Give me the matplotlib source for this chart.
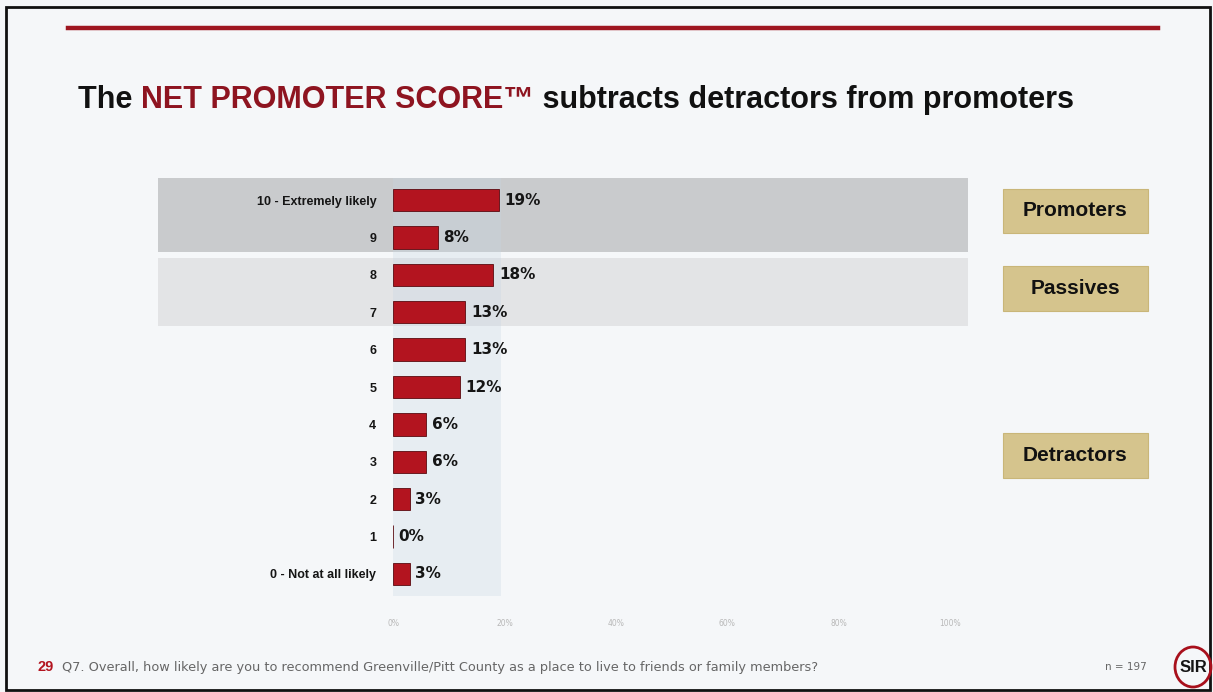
import matplotlib.pyplot as plt
from matplotlib.patches import Rectangle, Ellipse
from matplotlib.ticker import MultipleLocator, FuncFormatter

categories = ["0 - Not at all likely", "1", "2", "3", "4", "5", "6", "7", "8", "9",
              "10 - Extremely likely"]
values = [3, 0, 3, 6, 6, 12, 13, 13, 18, 8, 19]
groups = ["Promoters", "Passives", "Detractors"]

W, H = 1213, 692
fig = plt.figure(figsize=(W / 100, H / 100), dpi=100)
fig.patch.set_facecolor("#f5f7f9")
SANS = ["Liberation Sans", "DejaVu Sans"]

def px(x0, y0, x1, y1):
    # pixel box -> figure fraction rect
    return [x0 / W, 1 - y1 / H, (x1 - x0) / W, (y1 - y0) / H]

# slide frame and top rule
fig.add_artist(Rectangle((6 / W, 1 - 690 / H), 1204 / W, 683 / H, transform=fig.transFigure,
                         fill=False, ec="#111111", lw=2))
fig.add_artist(plt.Line2D([68 / W, 1158 / W], [1 - 28 / H] * 2, transform=fig.transFigure,
                          color="#9e1620", lw=3.2))

# title, mixed colours
ty = 1 - 100 / H
t1 = fig.text(78 / W, ty, "The ", fontsize=22, fontweight="bold", color="#111111",
              va="center", family=SANS)
fig.canvas.draw()
r = fig.canvas.get_renderer()
bb = t1.get_window_extent(r)
t2 = fig.text(bb.x1 / W, ty, "NET PROMOTER SCORE\u2122", fontsize=22, fontweight="bold",
              color="#8e1420", va="center", family=SANS)
bb = t2.get_window_extent(r)
fig.text(bb.x1 / W, ty, " subtracts detractors from promoters", fontsize=22,
         fontweight="bold", color="#111111", va="center", family=SANS)

ax = fig.add_axes(px(393, 177.6, 950, 596.4))
ax.set_facecolor("none")
ax.set_xlim(0, 100)
ax.set_ylim(-0.6, 10.6)
ypos = list(range(len(categories)))

# group bands behind the bars
x_left, x_right = (158 - 393) / 5.57, (968 - 393) / 5.57
ax.add_patch(Rectangle((x_left, 8.6), x_right - x_left, 2.0, fc="#c9cbcd", ec="none",
                       clip_on=False, zorder=0))
ax.add_patch(Rectangle((x_left, 6.63), x_right - x_left, 1.82, fc="#e3e4e6", ec="none",
                       clip_on=False, zorder=0))
ax.add_patch(Rectangle((0, -0.6), 19.3, 11.2, fc="#c7d6e4", alpha=0.3, ec="none", zorder=0.5))

ax.barh(ypos, values, height=0.6, color="#b3141f", edgecolor="#5a0a10", lw=0.6, zorder=2)
for y, v in zip(ypos, values):
    ax.text(v + 1.0, y, f"{v}%", va="center", ha="left", fontsize=11, fontweight="bold",
            color="#151515")

ax.set_yticks(ypos)
ax.set_yticklabels(categories, fontsize=9, fontweight="bold", color="#151515", family=SANS)
ax.tick_params(axis="y", length=0, pad=12)
ax.xaxis.set_major_locator(MultipleLocator(20))
ax.xaxis.set_major_formatter(FuncFormatter(lambda v, p: f"{v:.0f}%"))
ax.tick_params(axis="x", length=0, labelsize=5.5, labelcolor="#b8b8b8", pad=16)
for s in ax.spines.values():
    s.set_visible(False)

# group label boxes
for name, (y0, y1) in zip(groups, [(189, 233), (266, 311), (433, 478)]):
    fig.add_artist(Rectangle((1003 / W, 1 - y1 / H), 145 / W, (y1 - y0) / H,
                             transform=fig.transFigure, fc="#d5c48d", ec="#c9b679", lw=0.8))
    fig.text(1075.5 / W, 1 - (y0 + y1) / 2 / H, name, ha="center", va="center", fontsize=15,
             fontweight="bold", color="#111111", family=SANS)

# footer
fig.text(38 / W, 1 - 667 / H, "29", fontsize=10.5, fontweight="bold", color="#b3141f",
         va="center", family=SANS)
fig.text(62 / W, 1 - 667 / H,
         "Q7. Overall, how likely are you to recommend Greenville/Pitt County as a place to live "
         "to friends or family members?", fontsize=9.3, color="#666666", va="center")
fig.text(1105 / W, 1 - 667 / H, "n = 197", fontsize=7.5, color="#666666", va="center")
fig.add_artist(Ellipse((1193 / W, 1 - 667 / H), 36 / W, 40 / H, transform=fig.transFigure,
                       fill=False, ec="#a8101c", lw=2))
fig.text(1193 / W, 1 - 667 / H, "SIR", fontsize=12, fontweight="bold", color="#151515",
         ha="center", va="center", family=SANS)

fig.savefig("out.png", dpi=100, facecolor=fig.get_facecolor())
